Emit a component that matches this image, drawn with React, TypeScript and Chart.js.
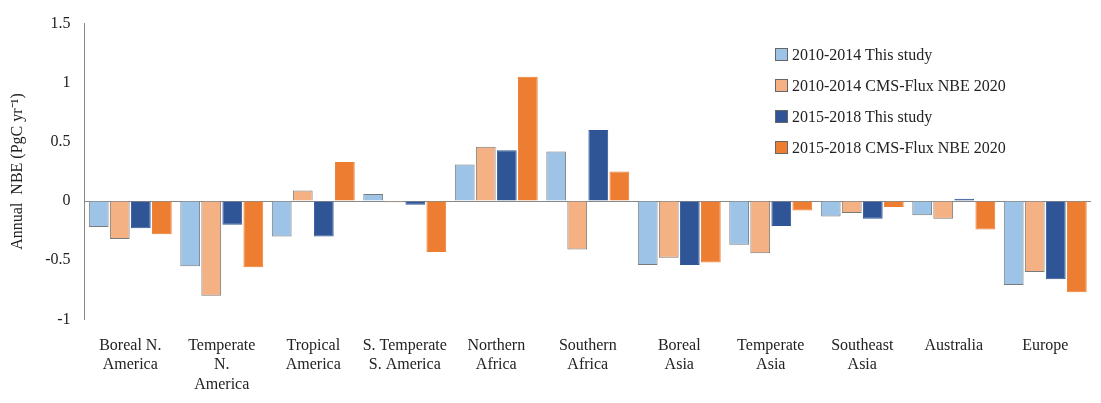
import React, { useEffect, useRef } from 'react';
import { Chart, registerables } from 'chart.js';
Chart.register(...registerables);

const categories = [
  ['Boreal N.', 'America'], ['Temperate', 'N.', 'America'], ['Tropical', 'America'], ['S. Temperate', 'S. America'],
  ['Northern', 'Africa'], ['Southern', 'Africa'], ['Boreal', 'Asia'], ['Temperate', 'Asia'], ['Southeast', 'Asia'],
  ['Australia'], ['Europe'],
];
const study1014 = [-0.22, -0.55, -0.3, 0.06, 0.31, 0.42, -0.54, -0.37, -0.13, -0.12, -0.71];
const cms1014 = [-0.32, -0.8, 0.09, -0.01, 0.46, -0.41, -0.48, -0.44, -0.1, -0.15, -0.6];
const study1518 = [-0.23, -0.2, -0.3, -0.03, 0.43, 0.6, -0.54, -0.21, -0.15, 0.02, -0.66];
const cms1518 = [-0.28, -0.56, 0.33, -0.43, 1.05, 0.25, -0.52, -0.08, -0.05, -0.24, -0.77];
const seriesNames = ['2010-2014 This study', '2010-2014 CMS-Flux NBE 2020', '2015-2018 This study', '2015-2018 CMS-Flux NBE 2020'];
const colors = ['#9DC3E6', '#F4B183', '#2F5597', '#ED7D31'];
const font = '"Liberation Serif", "Times New Roman", serif';

export default function App() {
  const ref = useRef<HTMLCanvasElement | null>(null);
  useEffect(() => {
    if (!ref.current) return;
    const data = [study1014, cms1014, study1518, cms1518];
    const c = new Chart(ref.current, {
      type: 'bar',
      data: {
        labels: categories,
        datasets: data.map((d, i) => ({
          label: seriesNames[i], data: d, backgroundColor: colors[i],
          borderColor: i === 2 || i === 3 ? colors[i] : '#7a7a7a', borderWidth: 1,
          categoryPercentage: 0.92, barPercentage: 0.94,
        })),
      },
      options: {
        animation: false, responsive: false, maintainAspectRatio: false,
        layout: { padding: { left: 4, right: 10, top: 0, bottom: 0 } },
        plugins: { legend: { display: false }, tooltip: { enabled: false } },
        scales: {
          x: {
            grid: { display: false }, border: { display: false },
            ticks: { color: '#222', font: { family: font, size: 16 }, maxRotation: 0, autoSkip: false, padding: 9 },
          },
          y: {
            min: -1, max: 1.5, border: { display: true, color: '#888' },
            grid: { color: (ctx: any) => (ctx.tick && ctx.tick.value === 0 ? '#888' : 'transparent'), drawTicks: false },
            ticks: { stepSize: 0.5, color: '#222', font: { family: font, size: 16 }, padding: 14, callback: (v: any) => String(v) },
            title: { display: true, text: 'Annual  NBE (PgC yr\u207B\u00B9)', color: '#222', font: { family: font, size: 16 } },
          },
        },
      },
    });
    return () => { c.destroy(); };
  }, []);
  return (
    <div style={{ position: 'fixed', left: 0, top: 0, width: 1101, height: 403, background: '#fff' }}>
      <canvas ref={ref} width={1101} height={403} />
      <div style={{ position: 'absolute', left: 775, top: 39, fontFamily: font, fontSize: 16, color: '#222', lineHeight: '31px' }}>
        {seriesNames.map((n, i) => (
          <div key={n} style={{ display: 'flex', alignItems: 'center' }}>
            <span style={{ display: 'inline-block', width: 11, height: 11, background: colors[i], border: '1px solid #666', marginRight: 4 }} />
            {n}
          </div>
        ))}
      </div>
    </div>
  );
}
